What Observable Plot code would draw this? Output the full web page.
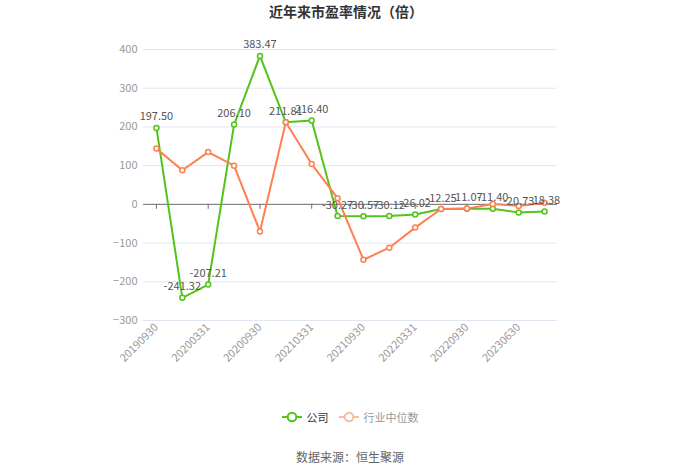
<!DOCTYPE html>
<html>
<head>
<meta charset="utf-8">
<script src="https://cdn.jsdelivr.net/npm/d3@7"></script>
<script src="https://cdn.jsdelivr.net/npm/@observablehq/plot@0.6"></script>
<style>
  body { margin: 0; background: #fff; font-family: "Noto Sans CJK SC", "Noto Sans", sans-serif; }
  #wrap { position: relative; width: 700px; height: 473px; }
  #title { position: absolute; top: 1px; left: -4px; width: 700px; text-align: center; font-size: 14px; font-weight: bold; color: #333; line-height: 20px; }
  #chart { position: absolute; top: 28px; left: 0; }
  #legend { position: absolute; top: 408px; left: 0; width: 700px; display: flex; justify-content: center; align-items: center; font-size: 11px; line-height: 18px; }
  #legend .item { display: flex; align-items: center; margin: 0 5px; }
  #legend svg { margin-right: 5px; }
  #source { position: absolute; top: 448px; left: 0; width: 700px; text-align: center; font-size: 12px; color: #666; line-height: 18px; }
</style>
</head>
<body>
<div id="wrap">
  <div id="title">近年来市盈率情况（倍）</div>
  <div id="chart"></div>
  <div id="legend"></div>
  <div id="source">数据来源：恒生聚源</div>
</div>
<script>
const dates = ["20190930","20191231","20200331","20200630","20200930","20201231","20210331","20210630","20210930","20211231","20220331","20220630","20220930","20221231","20230630","20230930"];
const company = [197.50, -241.32, -207.21, 206.10, 383.47, 211.81, 216.40, -30.27, -30.57, -30.12, -26.02, -12.25, -11.07, -11.40, -20.73, -18.38];
const industry = [144, 88, 135, 100, -70, 212, 104, 16, -143, -112, -60, -12, -11, 1, -4, 4];
const yTicks = [-300, -200, -100, 0, 100, 200, 300, 400];
const seriesNames = ["公司", "行业中位数"];
const colors = ["#52c41a", "#ff7f50"];

const labeledDates = dates.filter((d, i) => i % 2 === 0);
const compData = dates.map((d, i) => ({date: d, value: company[i]}));
const indData = dates.map((d, i) => ({date: d, value: industry[i]}));

const chart = Plot.plot({
  width: 700,
  height: 370,
  marginTop: 21,
  marginBottom: 78,
  marginLeft: 143,
  marginRight: 143,
  x: {type: "point", domain: dates, padding: 0.5, round: false},
  y: {domain: [-300, 400]},
  style: {fontFamily: '"Noto Sans CJK SC", "Noto Sans", sans-serif', fontSize: "11px", background: "transparent", overflow: "visible"},
  marks: [
    Plot.gridY(yTicks, {stroke: "#e0e6f1", strokeOpacity: 1, strokeWidth: 1}),
    Plot.axisY(yTicks, {tickSize: 0, tickPadding: 6, label: null, color: "#999", fontSize: 11}),
    Plot.axisX(labeledDates, {tickSize: 0, tickPadding: 5, tickRotate: -45, label: null, color: "#999", fontSize: 11}),
    Plot.ruleY([0], {stroke: "#6e7079", strokeWidth: 1}),
    Plot.ruleX(labeledDates, {x: d => d, y1: 0, y2: 0, insetBottom: -5, stroke: "#6e7079"}),
    Plot.line(compData, {x: "date", y: "value", stroke: colors[0], strokeWidth: 2}),
    Plot.dot(compData, {x: "date", y: "value", r: 2.5, stroke: colors[0], strokeWidth: 1.5, fill: "#fff"}),
    Plot.line(indData, {x: "date", y: "value", stroke: colors[1], strokeWidth: 2}),
    Plot.dot(indData, {x: "date", y: "value", r: 2.5, stroke: colors[1], strokeWidth: 1.5, fill: "#fff"}),
    Plot.text(compData, {x: "date", y: "value", text: d => d.value.toFixed(2), dy: -11, fill: "#555", fontSize: 11})
  ]
});
document.getElementById("chart").appendChild(chart);

const legend = document.getElementById("legend");
const legendStyles = [
  {stroke: colors[0], text: "#333"},
  {stroke: "#f9bba3", text: "#999"}
];
seriesNames.forEach((name, i) => {
  const item = document.createElement("div");
  item.className = "item";
  item.innerHTML = `<svg width="20" height="12"><line x1="0" y1="6" x2="20" y2="6" stroke="${legendStyles[i].stroke}" stroke-width="2"/><circle cx="10" cy="6" r="4.3" fill="#fff" stroke="${legendStyles[i].stroke}" stroke-width="2"/></svg><span style="color:${legendStyles[i].text}">${name}</span>`;
  legend.appendChild(item);
});
</script>
</body>
</html>
